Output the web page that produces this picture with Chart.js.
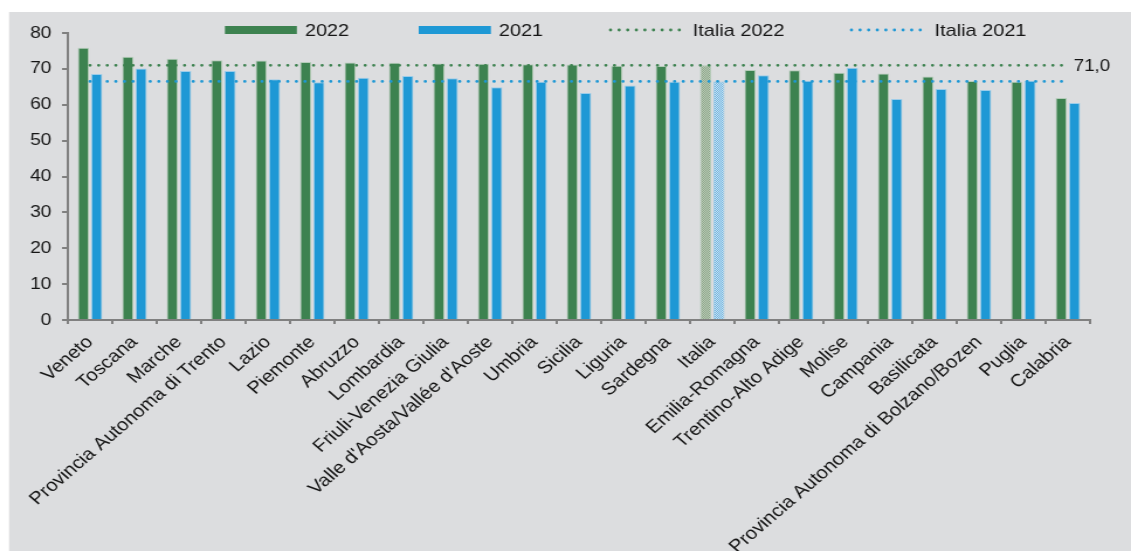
<!DOCTYPE html>
<html>
<head>
<meta charset="utf-8">
<script src="https://cdn.jsdelivr.net/npm/chart.js@4.4.1/dist/chart.umd.min.js"></script>
<style>
html, body { margin: 0; padding: 0; background: #fff; overflow: hidden; }
#wrap { width: 967px; height: 551px; transform: scaleX(1.1696); transform-origin: 0 0; }
</style>
</head>
<body>
<div id="wrap"><canvas id="chart" width="967" height="551"></canvas></div>
<script>
var regioni = ['Veneto', 'Toscana', 'Marche', 'Provincia Autonoma di Trento', 'Lazio', 'Piemonte',
    'Abruzzo', 'Lombardia', 'Friuli-Venezia Giulia', "Valle d'Aosta/Vallée d'Aoste", 'Umbria',
    'Sicilia', 'Liguria', 'Sardegna', 'Italia', 'Emilia-Romagna', 'Trentino-Alto Adige', 'Molise',
    'Campania', 'Basilicata', 'Provincia Autonoma di Bolzano/Bozen', 'Puglia', 'Calabria'];
var occ2022 = [75.9, 73.4, 72.8, 72.4, 72.3, 71.9, 71.8, 71.7, 71.5, 71.4, 71.3, 71.2, 70.9, 70.8,
    71.0, 69.7, 69.6, 68.9, 68.7, 67.9, 66.6, 66.4, 61.9];
var occ2021 = [68.6, 70.1, 69.4, 69.4, 67.1, 66.3, 67.5, 68.0, 67.4, 64.9, 66.4, 63.3, 65.4, 66.4,
    66.5, 68.2, 66.7, 70.3, 61.6, 64.4, 64.1, 66.7, 60.5];
var italia2022 = 71.0;
var italia2021 = 66.5;
var yMin = 0, yMax = 80, yStep = 10;

var verde = '#3d8250';
var azzurro = '#1e98d5';
var grigioAsse = '#808080';
var testo = '#151515';
var font = 'Liberation Sans, Arial, sans-serif';

function makePattern(c1, c2) {
    var p = document.createElement('canvas');
    p.width = 2; p.height = 2;
    var g = p.getContext('2d');
    g.fillStyle = c1; g.fillRect(0, 0, 2, 2);
    g.fillStyle = c2; g.fillRect(0, 0, 1, 1); g.fillRect(1, 1, 1, 1);
    return g.createPattern(p, 'repeat');
}
var patternVerde = makePattern('#8ea98b', '#b9c8b6');
var patternAzzurro = makePattern('#6fb4e0', '#c9e2f2');

var sfondo = {
    id: 'sfondo',
    beforeDraw: function (chart) {
        var ctx = chart.ctx;
        ctx.save();
        ctx.fillStyle = '#dcdddf';
        ctx.fillRect(7.7, 12, chart.width, chart.height);
        ctx.restore();
    }
};

var legenda = {
    id: 'legenda',
    afterDraw: function (chart) {
        var ctx = chart.ctx, y = 30;
        ctx.save();
        ctx.font = '17px ' + font;
        ctx.textBaseline = 'middle';
        ctx.fillStyle = verde; ctx.fillRect(192.3, y - 4, 61.5, 8);
        ctx.fillStyle = azzurro; ctx.fillRect(358, y - 4, 61.7, 8);
        ctx.lineWidth = 2.8; ctx.lineCap = 'round'; ctx.setLineDash([0, 7.35]);
        ctx.strokeStyle = verde;
        ctx.beginPath(); ctx.moveTo(522, y); ctx.lineTo(585, y); ctx.stroke();
        ctx.strokeStyle = azzurro;
        ctx.beginPath(); ctx.moveTo(728, y); ctx.lineTo(791, y); ctx.stroke();
        ctx.setLineDash([]);
        ctx.fillStyle = testo;
        ctx.fillText('2022', 260.7, y + 1);
        ctx.fillText('2021', 426.5, y + 1);
        ctx.fillText('Italia 2022', 592.3, y + 1);
        ctx.fillText('Italia 2021', 799.1, y + 1);
        ctx.restore();
    },
    afterDatasetsDraw: function (chart) {
        var meta = chart.getDatasetMeta(2);
        var last = meta.data[meta.data.length - 1];
        var ctx = chart.ctx;
        ctx.save();
        ctx.font = '16px ' + font;
        ctx.fillStyle = testo;
        ctx.textBaseline = 'middle';
        ctx.fillText(italia2022.toFixed(1).replace('.', ','), last.x + 5, last.y + 1);
        ctx.restore();
    }
};

var ctx = document.getElementById('chart').getContext('2d');
var chart = new Chart(ctx, {
    type: 'bar',
    data: {
        labels: regioni,
        datasets: [{
            label: '2022',
            data: occ2022,
            backgroundColor: regioni.map(function (r) { return r === 'Italia' ? patternVerde : verde; }),
            borderColor: 'rgba(170, 200, 175, 0.8)',
            borderWidth: 1,
            categoryPercentage: 0.6,
            barPercentage: 0.84
        }, {
            label: '2021',
            data: occ2021,
            backgroundColor: regioni.map(function (r) { return r === 'Italia' ? patternAzzurro : azzurro; }),
            borderColor: 'rgba(140, 200, 235, 0.8)',
            borderWidth: 1,
            categoryPercentage: 0.6,
            barPercentage: 0.84
        }, {
            type: 'line',
            label: 'Italia 2022',
            data: [{ x: regioni[0], y: italia2022 }, { x: regioni[regioni.length - 1], y: italia2022 }],
            borderColor: verde,
            borderWidth: 2.8,
            borderDash: [0, 7.35],
            borderCapStyle: 'round',
            pointRadius: 0,
            order: -1
        }, {
            type: 'line',
            label: 'Italia 2021',
            data: [{ x: regioni[0], y: italia2021 }, { x: regioni[regioni.length - 1], y: italia2021 }],
            borderColor: azzurro,
            borderWidth: 2.8,
            borderDash: [0, 7.35],
            borderCapStyle: 'round',
            pointRadius: 0,
            order: -1
        }]
    },
    options: {
        responsive: false,
        animation: false,
        layout: { padding: { top: 33, right: 35, left: 0, bottom: 0 } },
        plugins: {
            legend: { display: false },
            tooltip: { enabled: false }
        },
        scales: {
            x: {
                grid: { offset: true, drawOnChartArea: false, tickLength: 4, color: grigioAsse, lineWidth: 2 },
                border: { color: grigioAsse, width: 2 },
                ticks: {
                    autoSkip: false, minRotation: 45, maxRotation: 45, padding: 8,
                    color: testo, font: { family: font, size: 17.5 }
                },
                afterFit: function (s) { s.height = 231; }
            },
            y: {
                min: yMin,
                max: yMax,
                grid: { drawOnChartArea: false, tickLength: 5, color: grigioAsse, lineWidth: 2 },
                border: { color: grigioAsse, width: 2 },
                ticks: { stepSize: yStep, padding: 9, color: testo, font: { family: font, size: 16.5 } },
                afterFit: function (s) { s.width = 58; }
            }
        }
    },
    plugins: [sfondo, legenda]
});
</script>
</body>
</html>
